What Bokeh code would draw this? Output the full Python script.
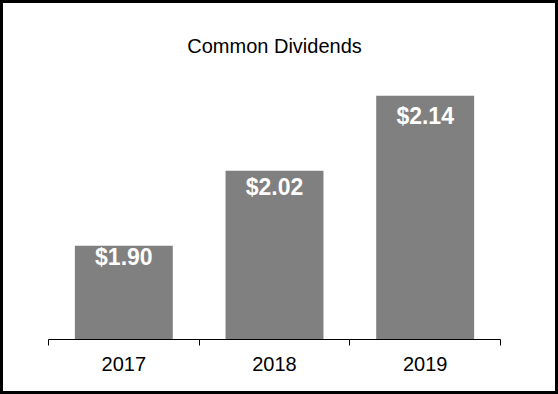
from bokeh.plotting import figure
from bokeh.models import Range1d, FixedTicker, Label, ColumnDataSource, InlineStyleSheet
from bokeh.core.properties import value
from bokeh.embed import file_html
from bokeh.resources import INLINE

# ---- data ----
title_text = "Common Dividends"
years = ["2017", "2018", "2019"]
dividends = [1.90, 2.02, 2.14]
axis_min = 1.75

# ---- styles ----
label_offsets_px = [11.5, 16.5, 20]   # distance of value labels below bar tops

# ---- derived ----
xs = [i + 0.5 for i in range(len(years))]
labels = [f"${v:.2f}" for v in dividends]
src = ColumnDataSource(dict(x=xs, top=dividends, label=labels, off=label_offsets_px))

W, H = 558, 394
BOTTOM = 55
p = figure(width=W, height=H, output_backend="svg", toolbar_location=None,
           x_range=Range1d(0, len(years)),
           y_range=Range1d(axis_min, axis_min + (H - BOTTOM) / 625),
           y_axis_location=None, min_border_left=48, min_border_right=58,
           min_border_top=0, min_border_bottom=BOTTOM)
p.outline_line_color = None
p.xgrid.visible = False
p.ygrid.visible = False
p.background_fill_color = "white"
p.border_fill_color = "white"

# frame around the whole chart (decoration)
p.stylesheets = [InlineStyleSheet(css=(
    ":host { position: relative; }"
    ":host::after { content: ''; position: absolute; left: 0; top: 0; "
    "width: 100%; height: 100%; border: 3px solid black; box-sizing: border-box; "
    "pointer-events: none; z-index: 100; }"))]

p.vbar(x="x", top="top", bottom=axis_min, width=0.65, source=src,
       fill_color="#808080", line_color=None)

p.text(x="x", y="top", text="label", source=src, text_align="center",
       text_baseline="middle", y_offset="off", text_color="white",
       text_font=value("Liberation Sans"), text_font_style="bold",
       text_font_size="23px")

ax = p.xaxis[0]
ax.ticker = FixedTicker(ticks=xs, minor_ticks=list(range(len(years) + 1)))
ax.major_label_overrides = {x: y for x, y in zip(xs, years)}
ax.major_tick_line_color = None
ax.major_tick_out = 0
ax.major_tick_in = 0
ax.minor_tick_line_color = "black"
ax.minor_tick_out = 6
ax.minor_tick_in = 0
ax.axis_line_color = "black"
ax.axis_line_width = 1
ax.major_label_standoff = 11
ax.major_label_text_font = "Liberation Sans"
ax.major_label_text_font_size = "20px"
ax.major_label_text_color = "black"

p.add_layout(Label(x=226, y=294, x_units="screen", y_units="screen",
                   text=title_text, text_align="center", text_baseline="middle",
                   text_font="Liberation Sans", text_font_size="20px",
                   text_color="black"))

open("out.html", "w").write(file_html(p, INLINE))
